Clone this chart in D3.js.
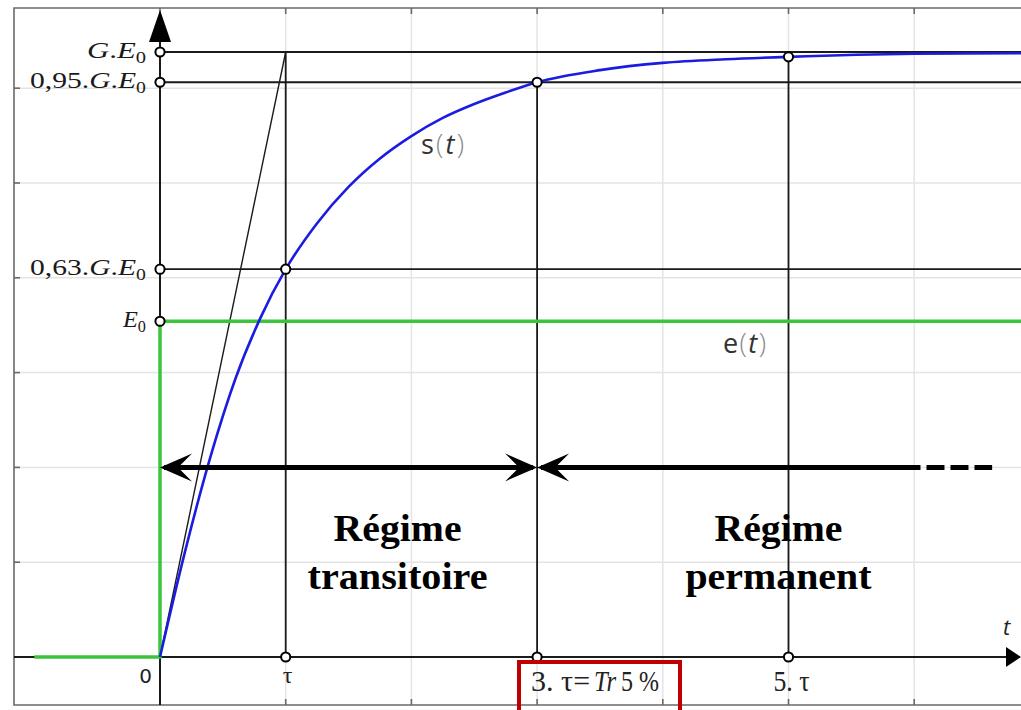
<!DOCTYPE html>
<html><head><meta charset="utf-8">
<script src="https://cdn.jsdelivr.net/npm/d3@7"></script>
<style>body{margin:0;background:#fff;overflow:hidden}</style>
</head><body>
<svg id="c" width="1021" height="710"></svg>
<script>
// ---- data (t in units of tau, values in units of G.E0) ----
const gridT = [0, 1, 2, 3, 4, 5, 6];
const gridV = [0, 0.1567, 0.3134, 0.4701, 0.6268, 0.7835, 0.9402];
const levelNames = ["G.E0", "0,95.G.E0", "0,63.G.E0", "E0"];
const levelValues = [1, 0.95, 0.641, 0.555];
const sT = [0, 0.2, 0.4, 0.6, 0.8, 1, 1.25, 1.5, 1.75, 2, 2.25, 2.5, 2.75, 3, 3.5, 4, 4.5, 5, 6, 6.9];
const sV = [0, 0.175, 0.33, 0.46, 0.561, 0.641, 0.717, 0.777, 0.824, 0.861, 0.891, 0.914, 0.933, 0.95, 0.97, 0.982, 0.988, 0.992, 0.997, 0.998];
const eT = [-1, 0, 0, 6.9];
const eV = [0, 0, 0.555, 0.555];
const tangentT = [0, 1];
const tangentV = [0, 1];
const markT = [1, 3, 5];
const markV = [1, 0.95, 0.992];
const tickT = [0, 1, 3, 5];
const tickLabels = ["0", "τ", "3. τ=Tr 5 %", "5. τ"];
const regimeWords = [["Régime", "transitoire"], ["Régime", "permanent"]];
const regimeLabelT = [1.89, 4.92];
const arrowV = 0.3134;
const arrowSpans = [[0, 3], [3, 6.05]];
const dashSpan = [6.05, 6.62];

// ---- scales ----
const svg = d3.select("#c");
const x = d3.scaleLinear().domain([0, 5]).range([160, 788.5]);
const y = d3.scaleLinear().domain([0, 1]).range([657, 52]);

const X0 = 14, XR = 1021, YT = 8, YB = 705;

// grid
svg.append("g").selectAll("line").data(gridT.filter(t => t !== 0)).join("line")
  .attr("x1", d => x(d)).attr("x2", d => x(d)).attr("y1", YT).attr("y2", YB)
  .attr("stroke", "#e4e4e4").attr("stroke-width", 1.5);
svg.append("g").selectAll("line").data(gridV.filter(v => v !== 0)).join("line")
  .attr("x1", X0).attr("x2", XR).attr("y1", d => y(d)).attr("y2", d => y(d))
  .attr("stroke", "#e4e4e4").attr("stroke-width", 1.5);

// frame
const frame = svg.append("g").attr("stroke", "#6a6a6a").attr("stroke-width", 1.6).attr("fill", "none");
frame.append("path").attr("d", `M${XR},${YT}H${X0}V${YB}H${XR}`);
frame.selectAll(".tt").data(gridT).join("line").attr("class", "tt")
  .attr("x1", d => x(d)).attr("x2", d => x(d)).attr("y1", YT).attr("y2", YT + 6);
frame.selectAll(".tb").data(gridT).join("line").attr("class", "tb")
  .attr("x1", d => x(d)).attr("x2", d => x(d)).attr("y1", YB).attr("y2", YB - 6);
frame.selectAll(".tl").data(gridV).join("line").attr("class", "tl")
  .attr("x1", X0).attr("x2", X0 + 6).attr("y1", d => y(d)).attr("y2", d => y(d));

// level lines
svg.append("g").selectAll("line").data(levelValues.slice(0, 3)).join("line")
  .attr("x1", x(0)).attr("x2", XR).attr("y1", d => y(d)).attr("y2", d => y(d))
  .attr("stroke", "#1a1a1a").attr("stroke-width", 1.8);

// vertical marker lines
svg.append("g").selectAll("line").data(markT).join("line")
  .attr("x1", d => x(d)).attr("x2", d => x(d))
  .attr("y1", (d, i) => y(markV[i])).attr("y2", y(0))
  .attr("stroke", "#1a1a1a").attr("stroke-width", 1.8);

// tangent
svg.append("line")
  .attr("x1", x(tangentT[0])).attr("y1", y(tangentV[0]))
  .attr("x2", x(tangentT[1])).attr("y2", y(tangentV[1]))
  .attr("stroke", "#1a1a1a").attr("stroke-width", 1.4);

// axes
svg.append("line").attr("x1", X0).attr("x2", 1008).attr("y1", y(0)).attr("y2", y(0))
  .attr("stroke", "#1a1a1a").attr("stroke-width", 2);
svg.append("line").attr("x1", x(0)).attr("x2", x(0)).attr("y1", YB).attr("y2", 38)
  .attr("stroke", "#1a1a1a").attr("stroke-width", 2);
svg.append("path").attr("d", `M${x(0)},10L${x(0) - 11},42L${x(0) + 11},42Z`).attr("fill", "#000");
svg.append("path").attr("d", `M1021,${y(0)}L1006,${y(0) - 10}L1006,${y(0) + 10}Z`).attr("fill", "#000");

// e(t)
const line = d3.line().x(d => x(d[0])).y(d => y(d[1]));
svg.append("path").attr("d", line(eT.map((t, i) => [t, eV[i]])))
  .attr("fill", "none").attr("stroke", "#3cc43c").attr("stroke-width", 3.5);

// s(t)
const curve = d3.line().x(d => x(d[0])).y(d => y(d[1])).curve(d3.curveMonotoneX);
svg.append("path").attr("d", curve(sT.map((t, i) => [t, sV[i]])))
  .attr("fill", "none").attr("stroke", "#1c1ce0").attr("stroke-width", 2.6);

// regime arrows
const ay = y(arrowV);
const ag = svg.append("g");
function head(tx, dir) {
  ag.append("path")
    .attr("d", `M${tx},${ay}L${tx + dir * 32},${ay - 14}L${tx + dir * 18},${ay}L${tx + dir * 32},${ay + 14}Z`)
    .attr("fill", "#000");
}
arrowSpans.forEach((s, i) => {
  ag.append("line").attr("x1", x(s[0]) + 4).attr("x2", x(s[1]) - (i === 0 ? 4 : 0))
    .attr("y1", ay).attr("y2", ay).attr("stroke", "#000").attr("stroke-width", 5);
  head(x(s[0]), 1);
  if (i === 0) head(x(s[1]), -1);
});
ag.append("line").attr("x1", x(dashSpan[0])).attr("x2", x(dashSpan[1]))
  .attr("y1", ay).attr("y2", ay).attr("stroke", "#000").attr("stroke-width", 5)
  .attr("stroke-dasharray", "18,6").attr("stroke-dashoffset", -6);

// circles
const pts = [];
levelValues.forEach(v => pts.push([0, v]));
markT.forEach((t, i) => { pts.push([t, markV[i]]); pts.push([t, 0]); });
pts.push([1, levelValues[2]]);
svg.append("g").selectAll("circle").data(pts.filter(p => !(p[0] === 1 && p[1] === 1))).join("circle")
  .attr("cx", d => x(d[0])).attr("cy", d => y(d[1])).attr("r", 4.6)
  .attr("fill", "#fff").attr("stroke", "#000").attr("stroke-width", 2);

// y labels
const serif = "'Liberation Serif', 'Times New Roman', serif";
const lblWidths = [59, 116, 116, 23];
levelNames.forEach((name, i) => {
  const t = svg.append("text").attr("x", 146).attr("y", y(levelValues[i]) + 6)
    .attr("text-anchor", "end").attr("font-family", serif).attr("font-size", 24).attr("fill", "#1a1a1a")
    .attr("textLength", lblWidths[i]).attr("lengthAdjust", "spacingAndGlyphs");
  const m = name.match(/^(.*?)(G\.)?E0$/);
  if (m[1]) t.append("tspan").text(m[1]);
  if (m[2]) { t.append("tspan").attr("font-style", "italic").text("G"); t.append("tspan").text("."); }
  t.append("tspan").attr("font-style", "italic").text("E");
  t.append("tspan").attr("font-size", 16).attr("dy", 5).text("0");
});

// x labels
const xl = svg.append("g");
xl.append("text").attr("x", x(0) - 8).attr("y", 683).attr("text-anchor", "end")
  .attr("font-family", "'DejaVu Sans', sans-serif").attr("font-size", 20).attr("fill", "#222").text(tickLabels[0]);
xl.append("text").attr("x", x(1) + 2).attr("y", 683).attr("text-anchor", "middle")
  .attr("font-family", serif).attr("font-size", 24).attr("fill", "#222").text(tickLabels[1]);
function piece(str, x0, w, italic) {
  xl.append("text").attr("x", x0).attr("y", 691).attr("font-family", serif)
    .attr("font-size", 29).attr("fill", "#222").attr("font-style", italic ? "italic" : "normal")
    .attr("textLength", w).attr("lengthAdjust", "spacingAndGlyphs").text(str);
}
// "3. τ=Tr 5 %" split into upright / italic runs
const p3 = tickLabels[2].split(/(Tr)/);
piece(p3[0].trim(), x(3) - 6, 59, false);
piece(p3[1], x(3) + 57, 22, true);
piece(p3[2].trim(), x(3) + 84, 38, false);
piece(tickLabels[3], x(5) - 15, 36, false);

// t axis label
svg.append("text").attr("x", 1003).attr("y", 635).attr("font-family", "'Open Sans', sans-serif")
  .attr("font-style", "italic").attr("font-size", 22).attr("fill", "#222").text("t");

// s(t), e(t)
function fn(letter, xx, yy) {
  const t = svg.append("text").attr("x", xx).attr("y", yy).attr("font-family", "'Open Sans', sans-serif")
    .attr("font-size", 27).attr("fill", "#333").attr("textLength", 43).attr("lengthAdjust", "spacing");
  t.append("tspan").text(letter);
  t.append("tspan").attr("font-weight", 300).attr("fill", "#888").text("(");
  t.append("tspan").attr("font-style", "italic").text("t");
  t.append("tspan").attr("font-weight", 300).attr("fill", "#888").text(")");
}
fn("s", 421, 154);
fn("e", 723, 353);

// regime labels
const regW = [[128, 180], [128, 186]];
regimeWords.forEach((words, i) => {
  words.forEach((w, j) => {
    svg.append("text").attr("x", x(regimeLabelT[i])).attr("y", 541 + j * 48)
      .attr("text-anchor", "middle").attr("font-family", serif).attr("font-weight", "bold")
      .attr("font-size", 38).attr("fill", "#000")
      .attr("textLength", regW[i][j]).attr("lengthAdjust", "spacingAndGlyphs").text(w);
  });
});

// red box
svg.append("rect").attr("x", 519).attr("y", 662).attr("width", 161).attr("height", 60)
  .attr("fill", "none").attr("stroke", "#c00000").attr("stroke-width", 4);
</script>
</body></html>
